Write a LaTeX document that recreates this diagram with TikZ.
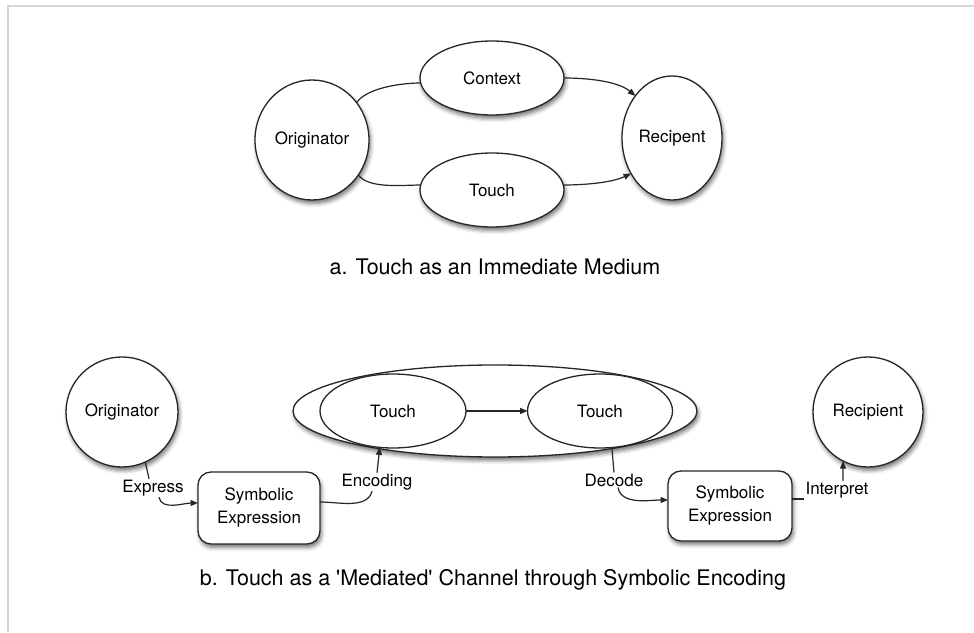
\documentclass[tikz,border=0pt]{standalone}
\usepackage{fontspec}
\setmainfont{TeX Gyre Heros}
\usepackage{tikz}
\usetikzlibrary{shapes.geometric, arrows.meta, shadows.blur}

\begin{document}
\begin{tikzpicture}[x=1pt, y=1pt,
    every node/.style={font=\fontsize{17}{23}\selectfont, text=black},
    shade/.style={blur shadow={shadow xshift=1.5pt, shadow yshift=-3.5pt, shadow blur radius=4pt, shadow opacity=55}},
    blob/.style={ellipse, draw=black!85, line width=1.3pt, fill=white, inner sep=0pt, outer sep=0pt},
    symbox/.style={draw=black!85, line width=1.3pt, fill=white, rounded corners=13pt, align=center,
      minimum width=122pt, minimum height=72pt, inner sep=0pt, outer sep=0pt, shade},
    lbl/.style={inner sep=1pt},
    conn/.style={line width=1.2pt, draw=black!85},
    arr/.style={conn, -{Triangle[length=7.5pt, width=6pt]}},
    caption/.style={font=\fontsize{21.5}{25}\selectfont}]
  \useasboundingbox (0,0) rectangle (974,632);
  \draw[black!16, line width=2pt] (8,0) -- (8,626) -- (974,626);

  % a. immediate medium
  \node[blob, shade, minimum width=114pt, minimum height=120pt] (origA) at (312,492) {Originator};
  \node[blob, shade, minimum width=144pt, minimum height=74pt] (ctx) at (492,554) {Context};
  \node[blob, shade, minimum width=144pt, minimum height=74pt] (touchA) at (492,442) {Touch};
  \node[blob, shade, minimum width=100pt, minimum height=124pt] (recA) at (672,494) {Recipent};

  \draw[conn] (origA.40) to[out=55, in=180, looseness=0.7] (ctx.184);
  \draw[conn] (origA.-37) to[out=-55, in=180, looseness=0.7] (touchA.176);
  \draw[arr] (ctx.east) to[out=0, in=140, looseness=0.8] (recA.131);
  \draw[arr] (touchA.4) to[out=0, in=205, looseness=0.8] (recA.221);

  \node[caption] (capA) at (495,365) {a. Touch as an Immediate Medium};

  % b. mediated channel
  \node[blob, shade, minimum width=112pt, minimum height=110pt] (origB) at (122,220) {Originator};
  \node[blob, shade, minimum width=404pt, minimum height=92pt] (medium) at (495,221) {};
  \node[blob, minimum width=146pt, minimum height=74pt] (touchB1) at (393,221) {Touch};
  \node[blob, minimum width=145pt, minimum height=74pt] (touchB2) at (600,221) {Touch};
  \node[blob, shade, minimum width=110pt, minimum height=110pt] (recB) at (868,220) {Recipient};
  \node[symbox] (symA) at (259,124) {Symbolic\\Expression};
  \node[symbox, minimum width=124pt, minimum height=70pt] (symB) at (730,126) {Symbolic\\Expression};

  \node[lbl] (expr) at (153,144) {Express};
  \node[lbl] (enc) at (377,150) {Encoding};
  \node[lbl] (dec) at (614,152) {Decode};
  \node[lbl] (interp) at (837,142) {Interpret};

  \draw[arr] (touchB1) -- (touchB2);

  \draw[conn] (origB.-65) -- ([xshift=-4pt]expr.north);
  \draw[arr] ([xshift=6pt]expr.south) to[out=-80, in=180, looseness=0.9] ([yshift=5pt]symA.west);

  \draw[conn] ([yshift=6pt]symA.east) to[out=0, in=-105, looseness=0.9] ([xshift=-5pt]enc.south);
  \draw[arr] (enc.north) -- (touchB1.-110);

  \draw[conn] (touchB2.-72) -- (dec.north);
  \draw[arr] ([xshift=4pt]dec.south) to[out=-80, in=180, looseness=0.9] ([yshift=6pt]symB.west);

  \draw[conn] ([yshift=7pt]symB.east) -- ([yshift=7pt]symB.east -| interp.west);
  \draw[arr] ([xshift=6pt]interp.north) -- (recB.-117);

  \node[caption] (capB) at (493,52) {b. Touch as a \textquotesingle Mediated\textquotesingle{} Channel through Symbolic Encoding};
\end{tikzpicture}
\end{document}
